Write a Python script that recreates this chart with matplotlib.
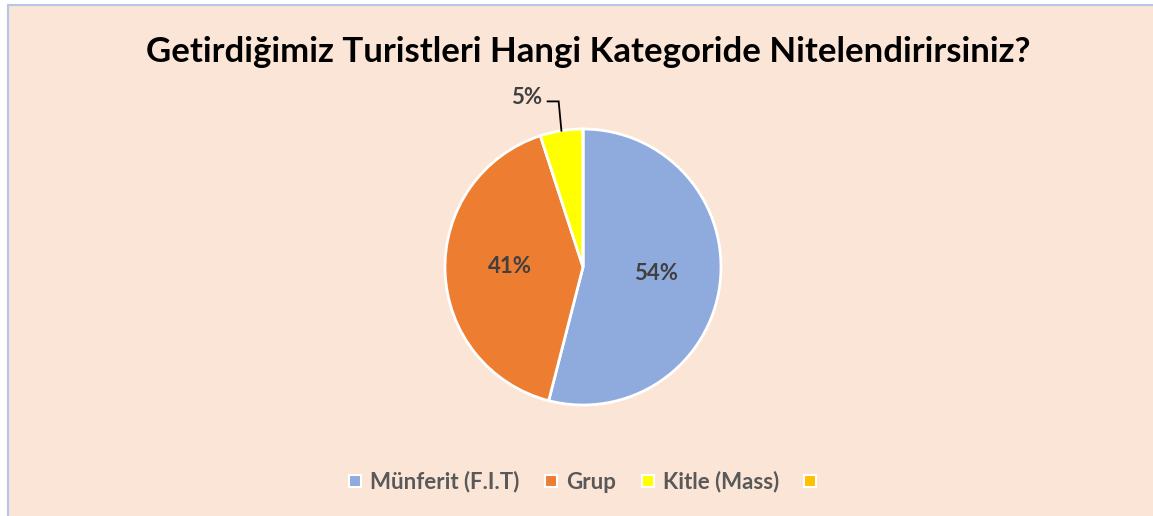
import numpy as np
import matplotlib.pyplot as plt
from matplotlib.lines import Line2D
from matplotlib.patches import Rectangle

# Veriler
kategoriler = ["Münferit (F.I.T)", "Grup", "Kitle (Mass)", ""]
degerler = [54, 41, 5, 0]
renkler = ["#8FAADC", "#ED7D31", "#FFFF00", "#FFC000"]
baslik = "Getirdiğimiz Turistleri Hangi Kategoride Nitelendirirsiniz?"

W, H = 1153, 516
fig = plt.figure(figsize=(W / 100, H / 100), dpi=100)
fig.patch.set_facecolor("white")

# arka plan kutusu (sag ve alt kenar resimde kesik)
fig.patches.append(Rectangle((8 / W, -0.1), 1.2, (H - 5) / H + 0.1, transform=fig.transFigure,
                             facecolor="#FBE5D6", edgecolor="#B4C7E7", linewidth=1.5, zorder=-10))

fig.text(588 / W, 1 - 52 / H, baslik, ha="center", va="center", fontsize=25,
         fontweight="bold", family="Lato", color="black")

cx, cy, r = 583, 267, 138
ax = fig.add_axes([(cx - r) / W, (H - cy - r) / H, 2 * r / W, 2 * r / H])

ax.pie(degerler, colors=renkler, startangle=90, counterclock=False, radius=1,
       wedgeprops=dict(edgecolor="white", linewidth=2))
# pie kendi sinirlarini koyuyor, sonra ezelim
ax.set_xlim(-1, 1)
ax.set_ylim(-1, 1)
ax.axis("off")

# yuzde etiketleri
toplam = sum(degerler)
bas = 90.0
for i, v in enumerate(degerler):
    if v == 0:
        continue
    aci = np.deg2rad(bas - v / toplam * 360 / 2)
    bas -= v / toplam * 360
    etiket = f"{v}%"
    if v / toplam > 0.1:
        ax.text(0.53 * np.cos(aci), 0.53 * np.sin(aci) + 0.02, etiket, ha="center", va="center",
                fontsize=16, fontweight="bold", family="Lato", color="#404040")
    else:
        x0, y0 = np.cos(aci), np.sin(aci)
        ax.plot([x0, x0 - 0.02, x0 - 0.10], [y0, 1.2, 1.2], color="black", lw=1.3,
                clip_on=False, solid_joinstyle="miter")
        ax.text(x0 - 0.14, 1.23, etiket, ha="right", va="center", fontsize=16,
                fontweight="bold", family="Lato", color="#404040")

tutamac = [Line2D([], [], marker="s", linestyle="", markersize=9, markerfacecolor=c,
                  markeredgecolor="white", markeredgewidth=1.5) for c in renkler]
fig.legend(tutamac, kategoriler, loc="center", bbox_to_anchor=(586 / W, 1 - 482 / H), ncol=4,
           frameon=False, handlelength=0.8, handletextpad=0.3, columnspacing=1.0,
           prop=dict(family="Lato", weight="bold", size=16), labelcolor="#595959")

fig.savefig("out.png", dpi=100)
